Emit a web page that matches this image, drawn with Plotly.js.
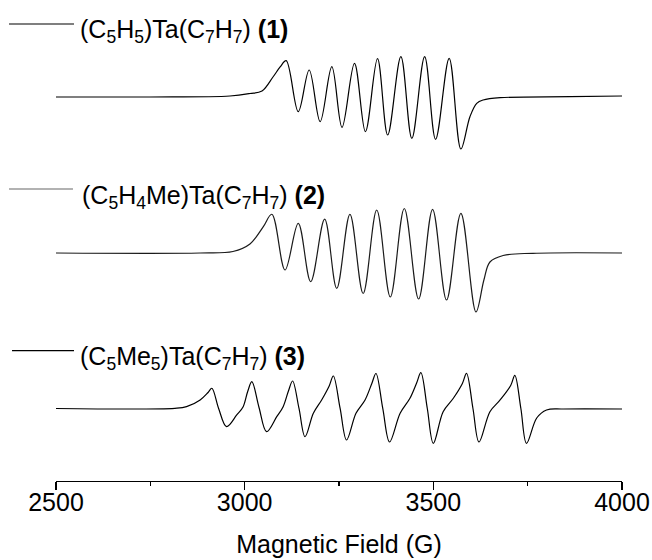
<!DOCTYPE html>
<html>
<head>
<meta charset="utf-8">
<script src="https://cdn.plot.ly/plotly-3.0.1.min.js"></script>
<style>html,body{margin:0;padding:0;background:#fff;}#chart{width:652px;height:560px;}</style>
</head>
<body>
<div id="chart"></div>
<script>
// Spectrum 1: (C5H5)Ta(C7H7)
const field1 = [2500, 2749, 2961, 3014, 3046, 3075, 3094, 3110, 3142, 3171, 3200, 3231, 3258, 3291, 3320, 3352, 3379, 3414, 3443, 3477, 3506, 3542, 3573, 3597, 3615, 3632, 3677, 3862, 4000];
const signal1 = [0, 0, 1, 3.5, 6, 20, 30, 36.3, -14.7, 27, -24.7, 30.3, -30.3, 33.7, -34.7, 38.3, -38, 40.3, -41.3, 40.3, -42.3, 38.7, -52, -19.7, -6.3, -3, -0.7, 0.3, 1];

// Spectrum 2: (C5H4Me)Ta(C7H7)
const field2 = [2500, 2882, 2969, 3014, 3049, 3072, 3107, 3142, 3175, 3212, 3244, 3279, 3314, 3350, 3386, 3423, 3461, 3498, 3535, 3573, 3613, 3634, 3650, 3685, 3764, 4000];
const signal2 = [0, 0, 1.5, 9, 26, 38.7, -17, 29.7, -28.7, 33.8, -35.3, 38.7, -40.5, 43, -44, 44.5, -46, 43.7, -47, 39.7, -59, -27, -9, -2.5, -0.3, 0];

// Spectrum 3: (C5Me5)Ta(C7H7)
const field3 = [2500, 2815, 2846, 2882, 2903, 2913, 2931, 2952, 2979, 2996, 3008, 3019, 3038, 3058, 3085, 3102, 3116, 3127, 3144, 3160, 3182, 3204, 3224, 3235, 3253, 3270, 3295, 3319, 3337, 3348, 3366, 3384, 3412, 3438, 3456, 3467, 3484, 3500, 3526, 3553, 3577, 3588, 3605, 3621, 3650, 3677, 3705, 3716, 3732, 3747, 3774, 3800, 3844, 4000];
const signal3 = [0, 0.2, 1.8, 8.5, 16, 20.2, 0, -18.2, -6.5, 1.8, 17, 26.8, 1, -23.2, -8.2, 1.8, 17.5, 27.5, 0, -28.2, -4.8, 8.5, 22.5, 32.5, 0, -31.5, -4.8, 8.5, 25, 35, 0, -33.5, -4.8, 10.2, 25.8, 35.8, 0, -34.8, -3.2, 10.2, 25, 35.2, 0, -33.5, -3.2, 8.5, 23, 33.2, 0, -34.8, -9.5, -1.5, -0.5, -0.5];

const labels = [
  '(C<sub>5</sub>H<sub>5</sub>)Ta(C<sub>7</sub>H<sub>7</sub>) <b>(1)</b>',
  '(C<sub>5</sub>H<sub>4</sub>Me)Ta(C<sub>7</sub>H<sub>7</sub>) <b>(2)</b>',
  '(C<sub>5</sub>Me<sub>5</sub>)Ta(C<sub>7</sub>H<sub>7</sub>) <b>(3)</b>'
];
const majorTicks = [2500, 3000, 3500, 4000];
const minorTicks = [2750, 3250, 3750];
const xTitle = 'Magnetic Field (G)';

const FONT = 'Liberation Sans, Arial, Helvetica, sans-serif';
const traceColors = ['#000000', '#1a1a1a', '#000000'];
const keyColors = ['#000000', '#666666', '#000000'];

const traces = [
  {x: field1, y: signal1, yaxis: 'y', xaxis: 'x'},
  {x: field2, y: signal2, yaxis: 'y2', xaxis: 'x'},
  {x: field3, y: signal3, yaxis: 'y3', xaxis: 'x'}
].map((t, i) => Object.assign(t, {
  type: 'scatter', mode: 'lines', showlegend: false, hoverinfo: 'skip',
  line: {color: traceColors[i], width: 1.2, shape: 'spline', smoothing: 1}
}));

const hiddenY = (dom) => ({domain: dom, range: [-60, 60], visible: false, fixedrange: true, anchor: 'x'});

const keyX = [[-0.0830, 0.0318], [-0.0830, 0.0300], [-0.0777, 0.0318]];
const keyY = [0.9501, 0.6071, 0.2709];
const textX = [0.0389, 0.0424, 0.0389];
const textY = [0.9356, 0.5894, 0.2557];

const layout = {
  width: 652, height: 560,
  margin: {l: 56, r: 30, t: 0, b: 79},
  paper_bgcolor: '#ffffff', plot_bgcolor: '#ffffff',
  font: {family: FONT, color: '#000', size: 25},
  xaxis: {
    range: [2500, 4000], anchor: 'free', position: 0,
    showline: true, linecolor: '#000', linewidth: 1.3,
    ticks: 'outside', ticklen: 8, tickwidth: 1.3, tickcolor: '#000',
    tickmode: 'array', tickvals: majorTicks, ticktext: majorTicks.map(String),
    ticklabelstandoff: -9,
    minor: {tickmode: 'array', tickvals: minorTicks, ticks: 'outside', ticklen: 4, tickwidth: 1.3, tickcolor: '#000', showgrid: false},
    showgrid: false, zeroline: false, fixedrange: true,
    tickfont: {family: FONT, size: 25, color: '#000'},
    title: {text: xTitle, font: {family: FONT, size: 25, color: '#000'}, standoff: 20}
  },
  yaxis: hiddenY([0.6736, 0.9231]),
  yaxis2: hiddenY([0.3493, 0.5988]),
  yaxis3: hiddenY([0.0260, 0.2755]),
  shapes: keyY.map((y, i) => ({
    type: 'line', xref: 'paper', yref: 'paper',
    x0: keyX[i][0], x1: keyX[i][1], y0: y, y1: y,
    line: {color: keyColors[i], width: 1.2}
  })),
  annotations: labels.map((t, i) => ({
    text: t, xref: 'paper', yref: 'paper', x: textX[i], y: textY[i],
    xanchor: 'left', yanchor: 'middle', showarrow: false,
    font: {family: FONT, size: 25, color: '#000'}
  }))
};

Plotly.newPlot('chart', traces, layout, {staticPlot: true, displayModeBar: false});
</script>
</body>
</html>
